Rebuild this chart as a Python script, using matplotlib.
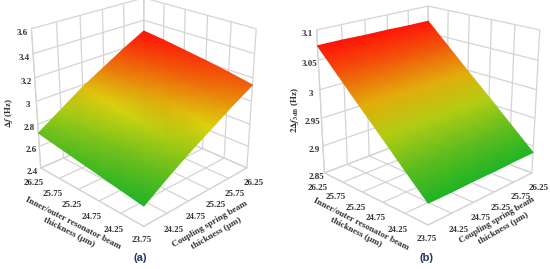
import numpy as np
import matplotlib
matplotlib.use('Agg')
import matplotlib.pyplot as plt
from matplotlib.colors import LinearSegmentedColormap
from matplotlib.transforms import IdentityTransform
from mpl_toolkits.mplot3d import proj3d

plt.rcParams['font.family'] = ['Liberation Serif', 'DejaVu Serif']
plt.rcParams['font.weight'] = 'bold'
plt.rcParams['mathtext.fontset'] = 'stix'

# thickness values at the tick positions
coupling = [23.75, 24.25, 24.75, 25.25, 25.75, 26.25]
inner = [23.75, 24.25, 24.75, 25.25, 25.75, 26.25]

# rows = inner/outer beam, columns = coupling beam
delta_f = [[2.57, 2.70, 2.82, 2.93, 3.04, 3.14],
           [2.60, 2.73, 2.85, 2.97, 3.08, 3.18],
           [2.63, 2.76, 2.89, 3.01, 3.12, 3.215],
           [2.66, 2.79, 2.92, 3.04, 3.15, 3.245],
           [2.69, 2.82, 2.95, 3.07, 3.18, 3.275],
           [2.72, 2.85, 2.98, 3.09, 3.20, 3.30]]
bw_3db = [[2.886, 2.886, 2.887, 2.887, 2.888, 2.888],
          [2.923, 2.923, 2.924, 2.924, 2.925, 2.925],
          [2.961, 2.961, 2.961, 2.961, 2.962, 2.962],
          [2.998, 2.998, 2.998, 2.998, 2.998, 2.998],
          [3.036, 3.036, 3.036, 3.035, 3.035, 3.035],
          [3.074, 3.074, 3.073, 3.073, 3.072, 3.072]]
z_ticks_a = [2.4, 2.6, 2.8, 3, 3.2, 3.4, 3.6]
z_ticks_b = [2.85, 2.9, 2.95, 3, 3.05, 3.1]

cmap = LinearSegmentedColormap.from_list('rsm', ['#1fb426', '#74c01c', '#dcd60e', '#ee6a0a', '#ff1208'])
grid_col = '#d4d4d4'
text_col = '#333333'

fig = plt.figure(figsize=(5.5, 2.69), dpi=100)


def panel(rect, values, z_ticks, azim, elev):
    ax = fig.add_axes(rect, projection='3d', computed_zorder=False)
    ax.set_box_aspect((1, 1, 1), zoom=0.97)
    ax.set_proj_type('persp', focal_length=0.5)
    ax.view_init(elev=elev, azim=azim)
    ax.patch.set_alpha(0)
    ax.set_xlim(coupling[0], coupling[-1])
    ax.set_ylim(inner[0], inner[-1])
    ax.set_zlim(z_ticks[0], z_ticks[-1])
    ax.set_xticks(coupling)
    ax.set_yticks(inner)
    ax.set_zticks(z_ticks)
    # the shared 23.75 at the front corner is placed separately
    ax.set_xticklabels([''] + [str(v) for v in coupling[1:]])
    ax.set_yticklabels([''] + [str(v) for v in inner[1:]])
    ax.set_zticklabels([str(v) for v in z_ticks])
    for axis in (ax.xaxis, ax.yaxis, ax.zaxis):
        axis.set_pane_color((1, 1, 1, 0))
        axis.pane.set_edgecolor(grid_col)
        axis.line.set_color(grid_col)
        axis._axinfo['grid']['color'] = grid_col
        axis._axinfo['grid']['linewidth'] = 0.9
        axis._axinfo['tick']['inward_factor'] = 0
        axis._axinfo['tick']['outward_factor'] = 0
    ax.tick_params(labelsize=6.5, colors=text_col, pad=-2)
    ax.tick_params(axis='z', pad=-4)
    fig.canvas.draw()

    # project the table to pixels and let the renderer shade it
    xx, yy = np.meshgrid(coupling, inner)
    zz = np.array(values)
    px, py, _ = proj3d.proj_transform(xx.ravel(), yy.ravel(), zz.ravel(), ax.get_proj())
    disp = ax.transData.transform(np.column_stack([px, py]))
    top = fig.add_axes([0, 0, 1, 1], frame_on=False)
    top.set_xticks([])
    top.set_yticks([])
    top.patch.set_alpha(0)
    top.pcolormesh(disp[:, 0].reshape(xx.shape), disp[:, 1].reshape(xx.shape), zz,
                   shading='gouraud', cmap=cmap, transform=IdentityTransform())
    return ax


panel([-0.005, 0.12, 0.52, 0.98], delta_f, z_ticks_a, -135, 24)
panel([0.512, 0.11, 0.52, 0.98], bw_3db, z_ticks_b, -135, 20)


def px_text(x, y, s, rot=0, size=6.5, **kw):
    fig.text(x / 550, 1 - y / 269, s, rotation=rot, size=size, ha='center', va='center',
             color=text_col, rotation_mode='anchor', **kw)


px_text(142, 240, '23.75')
px_text(427, 239, '23.75')
px_text(73, 223, 'Inner/outer resonator beam', -27)
px_text(69, 232, 'thickness (µm)', -27)
px_text(210, 224, 'Coupling spring beam', 30)
px_text(216, 233, 'thickness (µm)', 30)
px_text(9, 113, r'$\mathbf{\Delta}\mathit{f}$ (Hz)', 90)
px_text(361, 224, 'Inner/outer resonator beam', -27)
px_text(356, 232, 'thickness (µm)', -27)
px_text(497, 220, 'Coupling spring beam', 30)
px_text(503, 228, 'thickness (µm)', 30)
px_text(295, 110, r'$\mathbf{2\Delta}\mathit{f}_{\mathbf{3dB}}$ (Hz)', 90)
fig.text(140 / 550, 1 - 258 / 269, '(a)', size=8, ha='center', va='center', color='#1f3864',
         family=['Liberation Sans'])
fig.text(427 / 550, 1 - 258 / 269, '(b)', size=8, ha='center', va='center', color='#1f3864',
         family=['Liberation Sans'])

fig.savefig('out.png', dpi=100)
